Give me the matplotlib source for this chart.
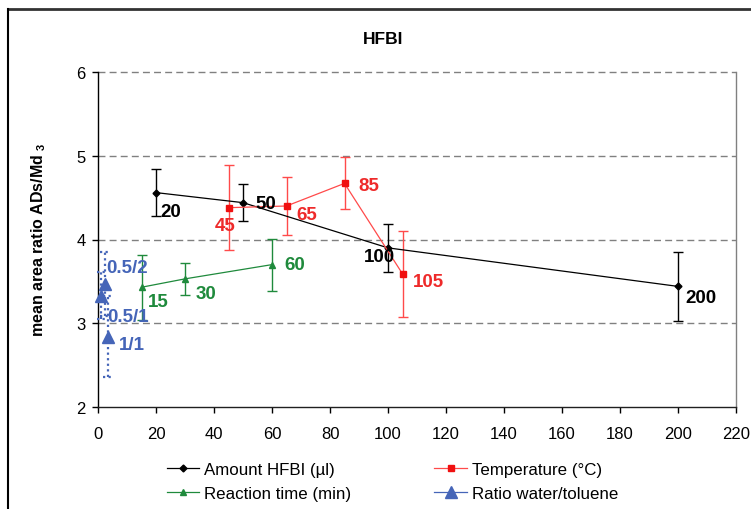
import matplotlib
matplotlib.use("Agg")
import matplotlib.pyplot as plt
from matplotlib.lines import Line2D

plt.rcParams['font.family'] = ['Liberation Sans', 'DejaVu Sans']
plt.rcParams['mathtext.fontset'] = 'custom'
plt.rcParams['mathtext.rm'] = 'Liberation Sans:bold'
plt.rcParams['mathtext.default'] = 'rm'

# ---- data ----
hfbi_x = [20, 50, 100, 200]
hfbi_y = [4.56, 4.44, 3.90, 3.44]
hfbi_err = [0.28, 0.22, 0.29, 0.41]
hfbi_labels = ["20", "50", "100", "200"]

temp_x = [45, 65, 85, 105]
temp_y = [4.38, 4.40, 4.67, 3.59]
temp_err = [0.51, 0.35, 0.31, 0.51]
temp_labels = ["45", "65", "85", "105"]

time_x = [15, 30, 60]
time_y = [3.43, 3.53, 3.70]
time_err = [0.39, 0.19, 0.31]
time_labels = ["15", "30", "60"]

ratio_x = [2.3, 1.2, 3.4]
ratio_y = [3.47, 3.33, 2.84]
ratio_err = [0.38, 0.28, 0.48]
ratio_labels = ["0.5/2", "0.5/1", "1/1"]

x_ticks = [0, 20, 40, 60, 80, 100, 120, 140, 160, 180, 200, 220]
y_ticks = [2, 3, 4, 5, 6]

# ---- styles ----
C_BLACK = '#000000'
C_RED_LINE = '#FF4A4A'
C_RED_MK = '#F01010'
C_RED_TXT = '#EE2A2A'
C_GREEN = '#1F8A3C'
C_BLUE = '#4565B8'
FS = 12
FS_LBL = 13.5

fig = plt.figure(figsize=(7.51, 5.10), dpi=100)
W, H = 751, 510
ax = fig.add_axes([98 / W, 1 - 408 / H, (736 - 98) / W, (408 - 73) / H])
ax.set_xlim(0, 220)
ax.set_ylim(2, 6)
ax.set_xticks(x_ticks)
ax.set_yticks(y_ticks)
ax.tick_params(axis='both', direction='out', length=4, width=1, labelsize=FS)
ax.tick_params(axis='x', pad=10)
ax.tick_params(axis='y', pad=5)
ax.spines['top'].set_visible(False)
ax.spines['right'].set_color('#808080')
ax.spines['left'].set_color('black')
ax.spines['bottom'].set_color('#202020')
for s in ax.spines.values():
    s.set_linewidth(1)

for yv in y_ticks[1:]:
    ax.axhline(yv, color='#808080', lw=1, ls=(0, (5, 3)), zorder=0, clip_on=False)

# Amount HFBI
ax.errorbar(hfbi_x, hfbi_y, yerr=hfbi_err, color=C_BLACK, lw=0.9, elinewidth=1,
            capsize=3.6, capthick=1, marker='D', ms=3.5, zorder=3)
# Temperature
ax.errorbar(temp_x, temp_y, yerr=temp_err, color=C_RED_LINE, lw=0.9, elinewidth=1,
            capsize=3.6, capthick=1, marker='s', ms=4.5, mfc=C_RED_MK, mec=C_RED_MK, zorder=3)
# Reaction time
ax.errorbar(time_x, time_y, yerr=time_err, color=C_GREEN, lw=0.9, elinewidth=1,
            capsize=3.6, capthick=1, marker='^', ms=4.5, zorder=3)
# Ratio water/toluene (dotted error bars, markers only)
ax.vlines(ratio_x, [y - e for y, e in zip(ratio_y, ratio_err)],
          [y + e for y, e in zip(ratio_y, ratio_err)], color=C_BLUE, lw=1.6,
          linestyles=(0, (1, 1.5)), zorder=3, clip_on=False)
cap = 1.7
for xv, yv, ev in zip(ratio_x, ratio_y, ratio_err):
    for yy in (yv - ev, yv + ev):
        ax.plot([xv - cap, xv + cap], [yy, yy], color=C_BLUE, lw=1.6,
                ls=(0, (1, 1.5)), zorder=3, clip_on=False)
ax.plot(ratio_x, ratio_y, ls='none', marker='^', ms=8, color=C_BLUE, zorder=4, clip_on=False)

# data labels (offsets in pixels)
hfbi_off = [(15, -19), (23, -1), (-9, -8.5), (23, -11)]
temp_off = [(-3.5, -18), (20, -9), (24, -2), (26, -8)]
time_off = [(17, -14), (21, -15), (23, 0)]
ratio_off = [(22, 16), (27, -21), (24, -8)]

def label(xs, ys, texts, offs, color):
    for xv, yv, t, o in zip(xs, ys, texts, offs):
        ax.annotate(t, (xv, yv), xytext=o, textcoords='offset pixels', ha='center',
                    va='center', fontsize=FS_LBL, fontweight='bold', color=color, zorder=5,
                    annotation_clip=False)

label(hfbi_x, hfbi_y, hfbi_labels, hfbi_off, C_BLACK)
label(temp_x, temp_y, temp_labels, temp_off, C_RED_TXT)
label(time_x, time_y, time_labels, time_off, C_GREEN)
label(ratio_x, ratio_y, ratio_labels, ratio_off, C_BLUE)

# title and y label
fig.text(383 / W, 1 - 40 / H, 'HFBI', ha='center', va='center', fontsize=12.5, fontweight='bold')
fig.text(39 / W, 1 - 240 / H, 'mean area ratio ADs/Md $_{3}$', rotation=90, ha='center',
         va='center', fontsize=11.5, fontweight='bold')

# legend
handles = [
    Line2D([], [], color=C_BLACK, lw=0.9, marker='D', ms=3.5),
    Line2D([], [], color=C_GREEN, lw=0.9, marker='^', ms=4.5),
    Line2D([], [], color=C_RED_LINE, lw=0.9, marker='s', ms=4.5, mfc=C_RED_MK, mec=C_RED_MK),
    Line2D([], [], color=C_BLUE, lw=0.9, marker='^', ms=8),
]
labels = ['Amount HFBI (µl)', 'Reaction time (min)', 'Temperature (°C)', 'Ratio water/toluene']
fig.legend(handles, labels, ncol=2, loc='upper left', bbox_to_anchor=(167 / W, 1 - 463 / H),
           frameon=False, borderpad=0, borderaxespad=0, handlelength=1.9, handletextpad=0.3,
           columnspacing=4.9, labelspacing=0.55, fontsize=12.2)

# chart border
fig.add_artist(Line2D([7.5 / W, 1], [1 - 10 / H, 1 - 10 / H], transform=fig.transFigure,
                      color='#333333', lw=2))
fig.add_artist(Line2D([7.5 / W, 7.5 / W], [0, 1 - 10 / H], transform=fig.transFigure,
                      color='black', lw=1.5))

fig.savefig('out.png', dpi=100)
